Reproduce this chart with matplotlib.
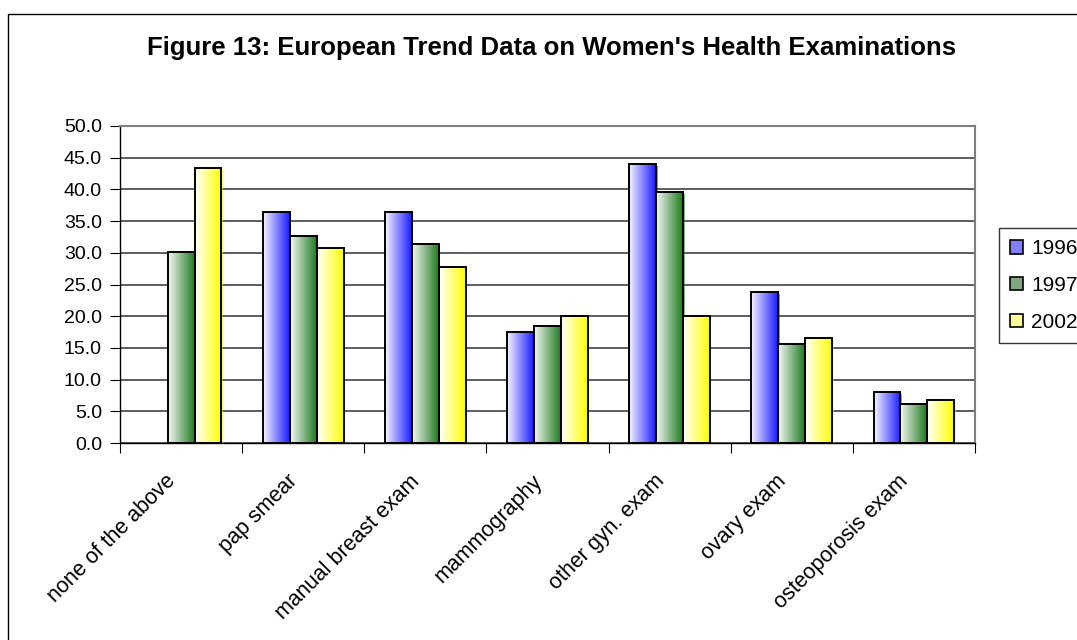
import numpy as np
import matplotlib
matplotlib.use("Agg")
import matplotlib.pyplot as plt
import matplotlib.transforms as mtransforms
from matplotlib.patches import Rectangle
from matplotlib.colors import LinearSegmentedColormap

plt.rcParams['font.family'] = ['Liberation Sans', 'DejaVu Sans']

categories = ["none of the above", "pap smear", "manual breast exam", "mammography",
              "other gyn. exam", "ovary exam", "osteoporosis exam"]
years = ["1996", "1997", "2002"]
vals_1996 = [0.0, 36.5, 36.5, 17.5, 44.0, 23.8, 8.1]
vals_1997 = [30.1, 32.6, 31.4, 18.5, 39.6, 15.6, 6.1]
vals_2002 = [43.4, 30.8, 27.7, 20.0, 20.0, 16.6, 6.8]
series = [vals_1996, vals_1997, vals_2002]

# gradient end colours (light -> dark, left -> right)
grad_colors = [("#f6f6ff", "#1a1aff"), ("#f6f8f6", "#1e7a1e"), ("#ffffff", "#ffff00")]
mid_colors = ["#8080ff", "#7fa87f", "#ffff99"]

W, H = 1077, 640
fig = plt.figure(figsize=(W / 100, H / 100), dpi=100)
ax = fig.add_axes([120 / W, 1 - 443 / H, 855 / W, 317 / H])

# chart area frame
fig.patches.append(Rectangle((8 / W, -0.1), 1.2, 1 - 14 / H + 0.1, transform=fig.transFigure,
                             fill=False, ec="black", lw=1.0))

x = np.arange(len(categories))
bw = 0.22
grad = np.linspace(0, 1, 256).reshape(1, -1)
for i, vals in enumerate(series):
    cmap = LinearSegmentedColormap.from_list("g%d" % i, grad_colors[i])
    offs = (i - 1) * bw
    edges = ["black" if v > 0 else "none" for v in vals]
    bars = ax.bar(x + offs, vals, bw, facecolor="none", edgecolor=edges, lw=1.4, zorder=3)
    for b, v in zip(bars, vals):
        if v <= 0:
            continue
        x0 = b.get_x()
        # slight coloured shadow on the right
        ax.add_patch(Rectangle((x0 + bw, 0), 0.012, v - 0.3, facecolor=grad_colors[i][1],
                               alpha=0.5, lw=0, zorder=2))
        im = ax.imshow(grad, cmap=cmap, aspect="auto", extent=(x0, x0 + bw, 0, v),
                       zorder=2.5, interpolation="bilinear")
        im.set_clip_path(b)

ax.set_xlim(-0.5, len(categories) - 0.5)
ax.set_ylim(0, 50)
ax.set_yticks(np.arange(0, 50.1, 5))
ax.set_yticklabels(["%.1f" % t for t in np.arange(0, 50.1, 5)], fontsize=14)
ax.yaxis.grid(True, color="#333333", lw=1.1)
ax.set_axisbelow(True)
ax.set_xticks(np.arange(-0.5, len(categories) + 0.5, 1))
ax.set_xticklabels([])
ax.set_xticks(x, minor=True)
ax.set_xticklabels(categories, minor=True, rotation=45, ha="right", va="top",
                   rotation_mode="anchor", fontsize=15.5)
ax.tick_params(axis="x", which="minor", length=0, pad=20)
ax.tick_params(axis="x", which="major", length=7, direction="out", color="black")
ax.tick_params(axis="y", length=7, direction="out", pad=6)
shift = mtransforms.ScaledTranslation(-16 / 100, 0, fig.dpi_scale_trans)
for lab in ax.get_xticklabels(minor=True):
    lab.set_transform(lab.get_transform() + shift)

for s in ["top", "right"]:
    ax.spines[s].set_color("#808080")
    ax.spines[s].set_linewidth(1.5)
for s in ["left", "bottom"]:
    ax.spines[s].set_color("black")
    ax.spines[s].set_linewidth(1.0)

fig.text(552 / W, 1 - 48 / H, "Figure 13: European Trend Data on Women's Health Examinations",
         ha="center", va="center", fontsize=18.5, fontweight="bold")

handles = [Rectangle((0, 0), 1, 1, facecolor=mid_colors[i], edgecolor="black", lw=1.2)
           for i in range(3)]
leg = fig.legend(handles, years, loc="upper left", bbox_to_anchor=(999 / W, 1 - 228 / H),
                 fontsize=15, frameon=True, fancybox=False, edgecolor="black",
                 handlelength=0.6, handleheight=0.6, handletextpad=0.4,
                 labelspacing=0.85, borderpad=0.55, borderaxespad=0)
leg.get_frame().set_linewidth(1.0)

fig.savefig("out.png", dpi=100, facecolor="white")
